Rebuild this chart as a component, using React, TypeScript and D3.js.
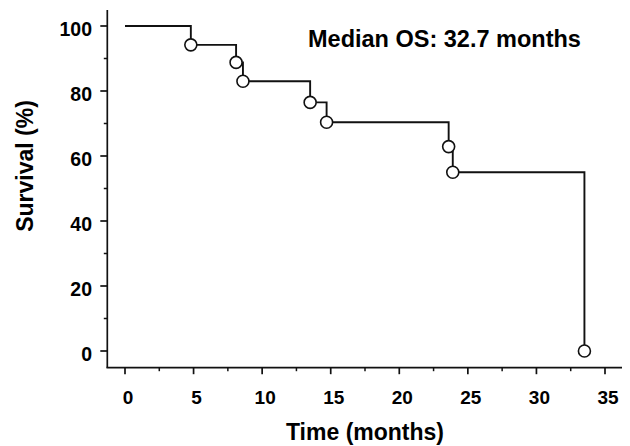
import React from "react";
import * as d3 from "d3";

const times = [0, 4.8, 8.1, 8.6, 13.5, 14.7, 23.6, 23.9, 33.5];
const survival = [100, 94.2, 88.8, 83.0, 76.5, 70.4, 62.9, 55.0, 0];
const xTicks = [0, 5, 10, 15, 20, 25, 30, 35];
const xMinorTicks = [2.5, 7.5, 12.5, 17.5, 22.5, 27.5, 32.5];
const yTicks = [0, 20, 40, 60, 80, 100];
const yMinorTicks = [10, 30, 50, 70, 90];
const xTitle = "Time (months)";
const yTitle = "Survival (%)";
const annotation = "Median OS: 32.7 months";

const W = 630;
const H = 446;
const FONT = "'Liberation Sans', Arial, Helvetica, sans-serif";
const INK = "#111";

export default function App() {
  const x = d3.scaleLinear().domain([0, 35]).range([125, 605]);
  const y = d3.scaleLinear().domain([0, 100]).range([351, 26]);
  const axisX = 107.3;
  const axisY = 367.7;
  const xEnd = 622;
  const yTop = 10;

  const pts = times.map((t, i) => [t, survival[i]] as [number, number]);
  const line = d3
    .line<[number, number]>()
    .x((d) => x(d[0]))
    .y((d) => y(d[1]))
    .curve(d3.curveStepAfter);

  return (
    <svg
      width={W}
      height={H}
      style={{ position: "absolute", left: 0, top: 0, background: "#fff" }}
      fontFamily={FONT}
    >
      <rect x={0} y={0} width={W} height={H} fill="#fff" />
      {/* axes */}
      <line x1={axisX} x2={axisX} y1={yTop} y2={axisY} stroke={INK} strokeWidth={1.7} />
      <line x1={axisX - 0.85} x2={xEnd} y1={axisY} y2={axisY} stroke={INK} strokeWidth={1.7} />
      {yTicks.map((t) => (
        <g key={"y" + t}>
          <line x1={axisX - 7} x2={axisX} y1={y(t)} y2={y(t)} stroke={INK} strokeWidth={1.7} />
          <text
            x={92}
            y={y(t) + 10.3}
            textAnchor="end"
            fontSize={19.5}
            fontWeight="bold"
            fill="#000"
          >
            {t}
          </text>
        </g>
      ))}
      {yMinorTicks.map((t) => (
        <line key={"ym" + t} x1={axisX - 3.5} x2={axisX} y1={y(t)} y2={y(t)} stroke={INK} strokeWidth={1.5} />
      ))}
      {xTicks.map((t) => (
        <g key={"x" + t}>
          <line x1={x(t)} x2={x(t)} y1={axisY} y2={axisY + 6.5} stroke={INK} strokeWidth={1.7} />
          <text x={x(t) + 3} y={403.5} textAnchor="middle" fontSize={19} fontWeight="bold" fill="#000">
            {t}
          </text>
        </g>
      ))}
      {xMinorTicks.map((t) => (
        <line key={"xm" + t} x1={x(t)} x2={x(t)} y1={axisY} y2={axisY + 3.5} stroke={INK} strokeWidth={1.5} />
      ))}
      {/* titles */}
      <text x={365} y={440} textAnchor="middle" fontSize={23} fontWeight="bold" fill="#000">
        {xTitle}
      </text>
      <text
        transform={`translate(33,166) rotate(-90)`}
        textAnchor="middle"
        fontSize={23}
        fontWeight="bold"
        fill="#000"
      >
        {yTitle}
      </text>
      <text x={308} y={47} fontSize={23.5} fontWeight="bold" fill="#000">
        {annotation}
      </text>
      {/* curve */}
      <path d={line(pts) || ""} fill="none" stroke={INK} strokeWidth={1.9} />
      {pts.slice(1).map((d, i) => (
        <circle
          key={"c" + i}
          cx={x(d[0])}
          cy={y(d[1])}
          r={6}
          fill="#fff"
          stroke={INK}
          strokeWidth={1.6}
        />
      ))}
    </svg>
  );
}
